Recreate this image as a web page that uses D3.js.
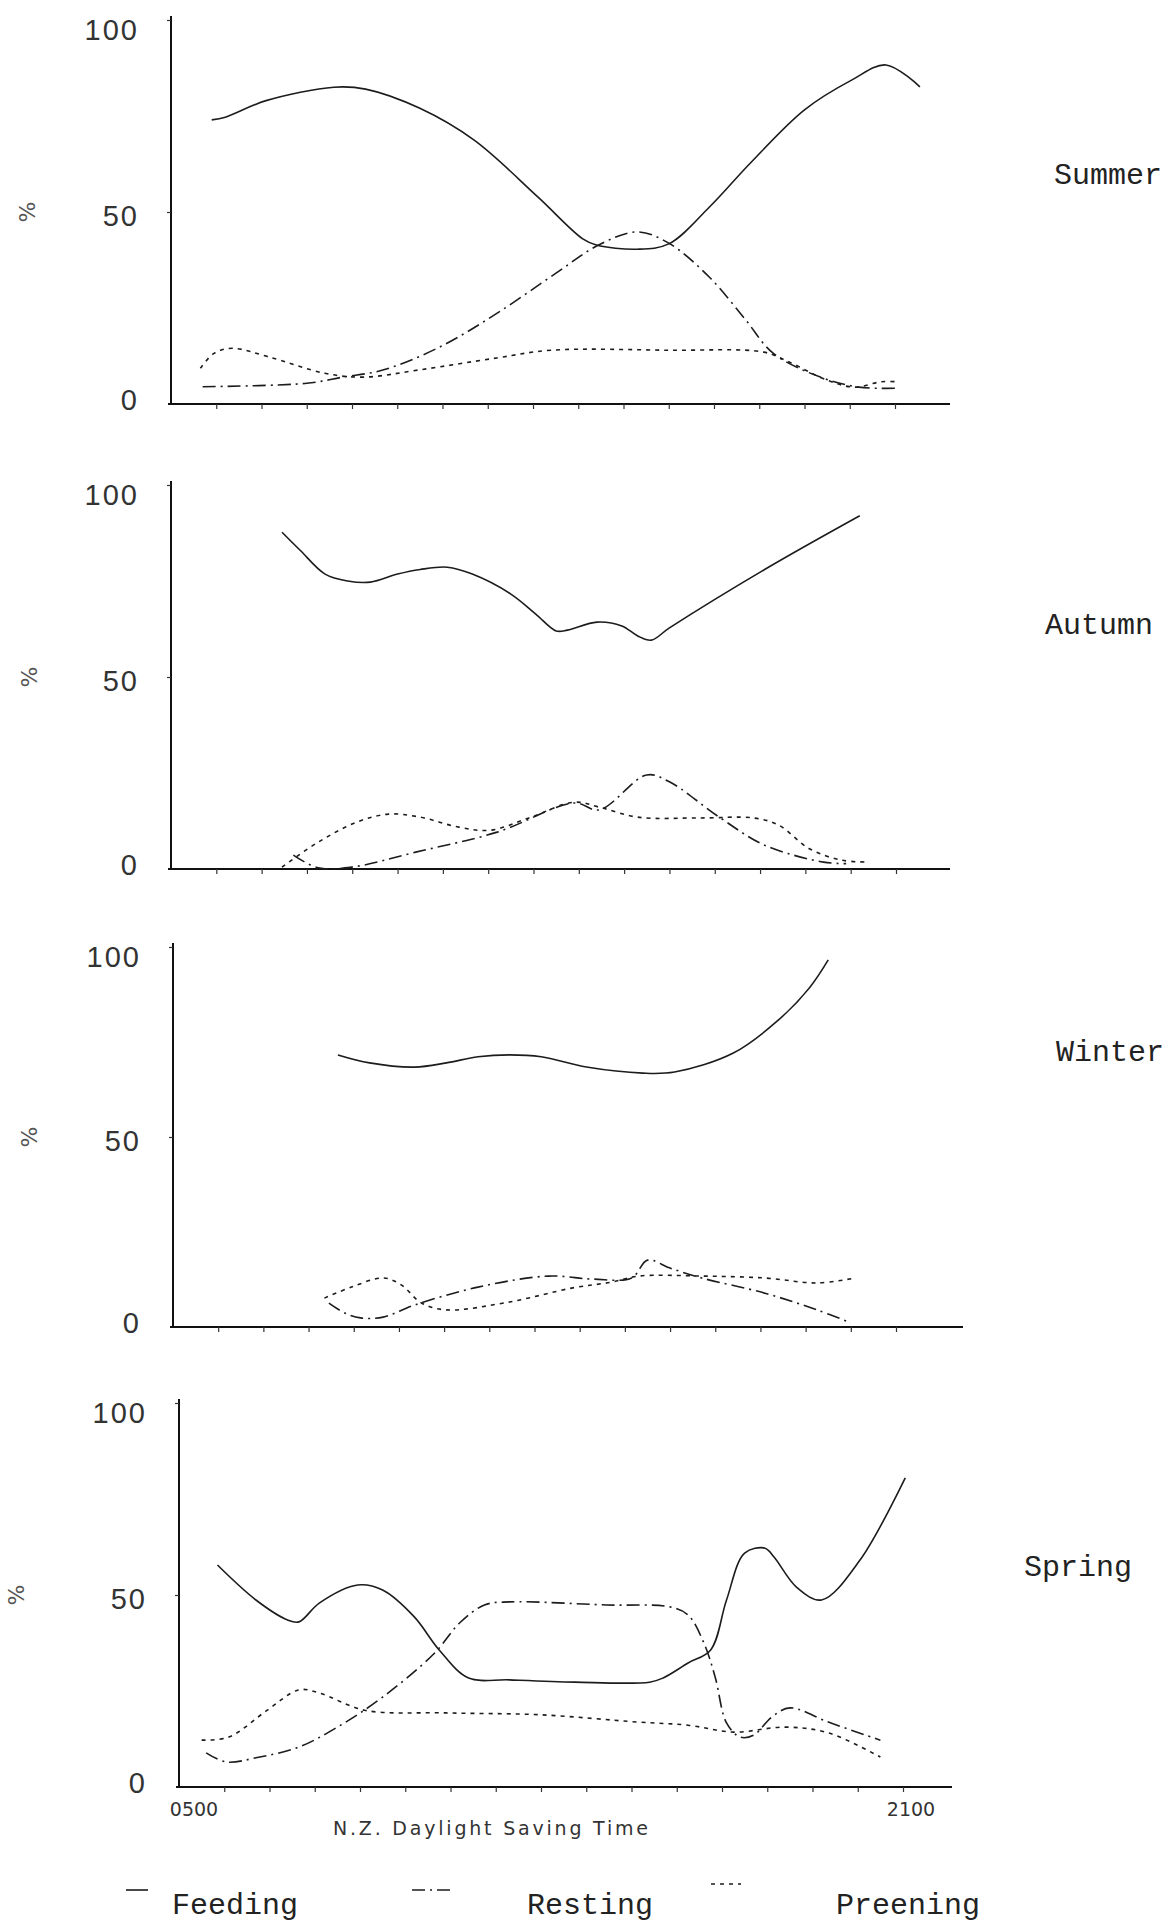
<!DOCTYPE html>
<html>
<head>
<meta charset="utf-8">
<style>
  body { margin: 0; background: #fff; }
  svg { display: block; }
  .axis-line { stroke: #111; stroke-width: 2; fill: none; }
  .ticks line { stroke: #333; stroke-width: 1.2; }
  .ticks .domain { display: none; }
  .ylab { font-family: 'Liberation Sans', Arial, sans-serif; font-size: 29px; letter-spacing: 2px; fill: #333; }
  .season, .legend text { font-family: 'Liberation Mono', 'Courier New', monospace; font-size: 30px; fill: #222; }
  .pct { font-family: 'DejaVu Sans', sans-serif; font-size: 22px; fill: #555; }
  .xlab { font-family: 'DejaVu Sans', sans-serif; fill: #333; }
  .series { fill: none; stroke: #1c1c1c; stroke-width: 1.6; }
  .resting { stroke-dasharray: 13 5 2 5; }
  .preening { stroke-dasharray: 4 5; }
</style>
</head>
<body>
<div id="chart"></div>
<script src="https://cdnjs.cloudflare.com/ajax/libs/d3/7.8.5/d3.min.js"></script>
<script>
// values: [hour of day, % of time]
var summerFeeding = [[5.9,74],[6.2,74.7],[7.1,79],[8.6,82.5],[9.3,82],[10.5,77],[11.7,68.7],[13.1,54],[14.1,43],[14.4,41.4],[15.3,40.3],[16.0,41.7],[16.9,51.3],[17.8,62.7],[19.0,76.6],[20.05,84.4],[20.8,88.3],[21.55,82.6]];
var summerResting = [[5.7,4.5],[8.0,5.4],[8.8,7],[9.7,8.9],[10.95,14.9],[12.2,23.6],[13.5,34],[14.45,41.4],[15.3,44.8],[16.0,41.9],[16.9,33],[17.7,21.9],[18.3,13.3],[19.35,7],[20.2,4.4],[21.0,4.1]];
var summerPreening = [[5.65,9.3],[5.95,13.2],[6.35,14.5],[7.15,12.3],[8.4,8],[9.25,7],[10.5,8.9],[12.2,12],[13.4,14],[16.0,14],[18.1,13.5],[18.65,11],[19.5,6.2],[20.1,4.4],[20.7,5.8],[21.05,5.8]];

var autumnFeeding = [[7.45,87.7],[7.85,83],[8.4,76.8],[8.9,75],[9.4,74.7],[10.0,76.8],[10.5,78],[11.1,78.6],[11.65,76.8],[12.5,71.6],[13.05,66.4],[13.5,62],[13.75,62.2],[14.4,64.3],[14.95,63.3],[15.3,60.7],[15.6,59.6],[16.0,62.8],[18.1,78],[20.2,92]];
var autumnResting = [[7.7,3.6],[8.25,0.3],[9.0,0.5],[10.4,4.4],[12.2,9.6],[13.9,17.2],[14.45,15.4],[15.5,24.5],[16.0,22.7],[17.1,13.5],[18.1,6.2],[19.4,1.8],[19.9,1.4]];
var autumnPreening = [[7.45,0.5],[8.25,7],[9.1,12.2],[9.8,14.3],[10.5,13.5],[11.35,10.9],[12.05,10.1],[12.9,13.3],[13.9,17.4],[14.45,16.1],[15.3,13.5],[16.7,13.3],[17.85,13.3],[18.4,11.5],[19.1,5.2],[19.8,2.3],[20.4,1.8]];

var winterFeeding = [[8.65,71.6],[9.35,69.5],[10.35,68.4],[11.05,69.5],[11.75,71.1],[12.45,71.6],[13.15,71.1],[14.15,68.4],[15.4,66.8],[16.1,67.1],[17.4,72.1],[18.4,80.8],[19.1,89.5],[19.5,96.6]];
var winterResting = [[8.45,6.3],[8.8,3.7],[9.15,2.4],[9.65,2.6],[10.35,5.8],[11.75,10.5],[13.3,13.4],[14.3,12.6],[15.15,12.9],[15.5,17.6],[16.0,15.5],[16.7,12.9],[18.1,8.9],[19.25,4.5],[20.0,1.1]];
var winterPreening = [[8.35,7.6],[8.95,10.5],[9.65,12.9],[10.05,11.1],[10.5,6.3],[11.05,4.5],[12.45,6.6],[13.85,10.3],[14.7,11.8],[15.3,13.4],[16.7,13.4],[18.1,12.9],[19.25,11.6],[20.1,12.9]];

var springFeeding = [[5.85,57.8],[6.7,48.7],[7.4,43.5],[7.65,43],[8.1,47.9],[8.95,52.6],[9.5,51.3],[10.2,44.3],[10.75,35.7],[11.4,28.4],[12.3,27.9],[13.75,27.3],[15.4,27.3],[15.7,28.4],[16.25,32.3],[16.75,35.7],[17.1,48.7],[17.5,60.9],[17.95,62.2],[18.15,59.9],[18.65,52],[19.2,48.7],[20.05,59.1],[21.05,80.5]];
var springResting = [[5.6,8.9],[6.05,6.5],[6.7,7.6],[7.65,10.4],[8.5,15.6],[9.5,23.4],[10.65,34.9],[11.2,42.7],[11.75,47.4],[12.3,48.2],[14.45,47.4],[15.85,46.9],[16.25,44.8],[16.6,37.5],[16.85,28.6],[17.1,16.7],[17.4,13],[17.7,13.5],[18.1,18.2],[18.5,20.6],[19.35,16.9],[20.5,12.2]];
var springPreening = [[5.5,12.2],[6.1,13],[6.95,20],[7.65,25.3],[8.1,24.5],[9.1,20],[10.9,19.3],[13.0,18.8],[15.15,16.9],[16.25,16.1],[17.25,14.3],[18.4,15.6],[19.35,14.1],[20.5,7.8]];

var seasons = ['Summer', 'Autumn', 'Winter', 'Spring'];
var activities = ['Feeding', 'Resting', 'Preening'];
var yTicks = [0, 50, 100];
var hourTicks = d3.range(6, 22);
var timeLabels = ['0500', '2100'];

var seriesBySeason = [
  [summerFeeding, summerResting, summerPreening],
  [autumnFeeding, autumnResting, autumnPreening],
  [winterFeeding, winterResting, winterPreening],
  [springFeeding, springResting, springPreening]
];

// panel placement (each panel of the original was drawn by hand, so they differ a little)
var layout = [
  {axisX: 171, y100: 20, y0: 404, x21: 895, xEnd: 950, labX: 1054, labY: 173, pctX: 27},
  {axisX: 171, y100: 485, y0: 869, x21: 896, xEnd: 950, labX: 1045, labY: 623, pctX: 29},
  {axisX: 173, y100: 947, y0: 1327, x21: 896, xEnd: 963, labX: 1056, labY: 1050, pctX: 29},
  {axisX: 179, y100: 1403, y0: 1787, x21: 903, xEnd: 952, labX: 1024, labY: 1565, pctX: 16}
];

var width = 1174;
var height = 1921;

var svg = d3.select('#chart').append('svg')
    .attr('width', width)
    .attr('height', height);

var line = d3.line()
    .curve(d3.curveCatmullRom.alpha(0.5));

layout.forEach(function (p, i) {
  var x = d3.scaleLinear().domain([5, 21]).range([p.axisX, p.x21]);
  var y = d3.scaleLinear().domain([0, 100]).range([p.y0, p.y100]);

  var g = svg.append('g').attr('class', 'panel');

  // axes
  g.append('line').attr('class', 'axis-line')
      .attr('x1', p.axisX).attr('x2', p.axisX)
      .attr('y1', y(100) - 4).attr('y2', y(0));
  g.append('line').attr('class', 'axis-line')
      .attr('x1', p.axisX - 3).attr('x2', p.xEnd)
      .attr('y1', y(0)).attr('y2', y(0));

  g.append('g').attr('class', 'ticks')
      .attr('transform', 'translate(0,' + y(0) + ')')
      .call(d3.axisBottom(x).tickValues(hourTicks).tickSize(5).tickFormat(''));
  g.append('g').attr('class', 'ticks')
      .attr('transform', 'translate(' + p.axisX + ',0)')
      .call(d3.axisLeft(y).tickValues([50, 100]).tickSize(4).tickFormat(''));

  g.selectAll('.ylab')
      .data(yTicks)
      .enter().append('text')
      .attr('class', 'ylab')
      .attr('x', p.axisX - 32)
      .attr('y', function (d) { return y(d) + (d === 100 ? 10 : d === 50 ? 4 : -4); })
      .attr('dy', '0.35em')
      .attr('text-anchor', 'end')
      .text(function (d) { return d; });

  g.append('text')
      .attr('class', 'pct')
      .attr('transform', 'translate(' + p.pctX + ',' + y(50) + ') rotate(90)')
      .attr('text-anchor', 'middle')
      .attr('dy', '0.35em')
      .text('%');

  g.append('text')
      .attr('class', 'season')
      .attr('x', p.labX)
      .attr('y', p.labY)
      .attr('dy', '0.35em')
      .text(seasons[i]);

  g.selectAll('.series')
      .data(seriesBySeason[i])
      .enter().append('path')
      .attr('class', function (d, k) { return 'series ' + activities[k].toLowerCase(); })
      .attr('d', function (d) {
        return line(d.map(function (v) { return [x(v[0]), y(v[1])]; }));
      });

  if (i === 3) {
    g.selectAll('.time')
        .data(timeLabels)
        .enter().append('text')
        .attr('class', 'xlab')
        .attr('x', function (d, k) { return k === 0 ? x(5) + 15 : x(21) + 8; })
        .attr('y', y(0) + 22)
        .attr('dy', '0.35em')
        .attr('text-anchor', 'middle')
        .style('font-size', '19px')
        .text(function (d) { return d; });

    g.append('text')
        .attr('class', 'xlab')
        .attr('x', 333)
        .attr('y', y(0) + 41)
        .attr('dy', '0.35em')
        .attr('textLength', 315)
        .attr('lengthAdjust', 'spacing')
        .style('font-size', '19px')
        .text('N.Z. Daylight Saving Time');
  }
});

// legend
var legendX = [126, 412, 711];
var legendLen = [22, 40, 30];
var legendTextX = [172, 527, 836];
var legend = svg.append('g').attr('class', 'legend');

legend.selectAll('path')
    .data(activities)
    .enter().append('path')
    .attr('class', function (d) { return 'series ' + d.toLowerCase(); })
    .attr('d', function (d, k) {
      var yy = k === 2 ? 1884 : 1890;
      return 'M' + legendX[k] + ',' + yy + 'H' + (legendX[k] + legendLen[k]);
    });

legend.selectAll('text')
    .data(activities)
    .enter().append('text')
    .attr('x', function (d, k) { return legendTextX[k]; })
    .attr('y', 1903)
    .attr('dy', '0.35em')
    .text(function (d) { return d; });
</script>
</body>
</html>
